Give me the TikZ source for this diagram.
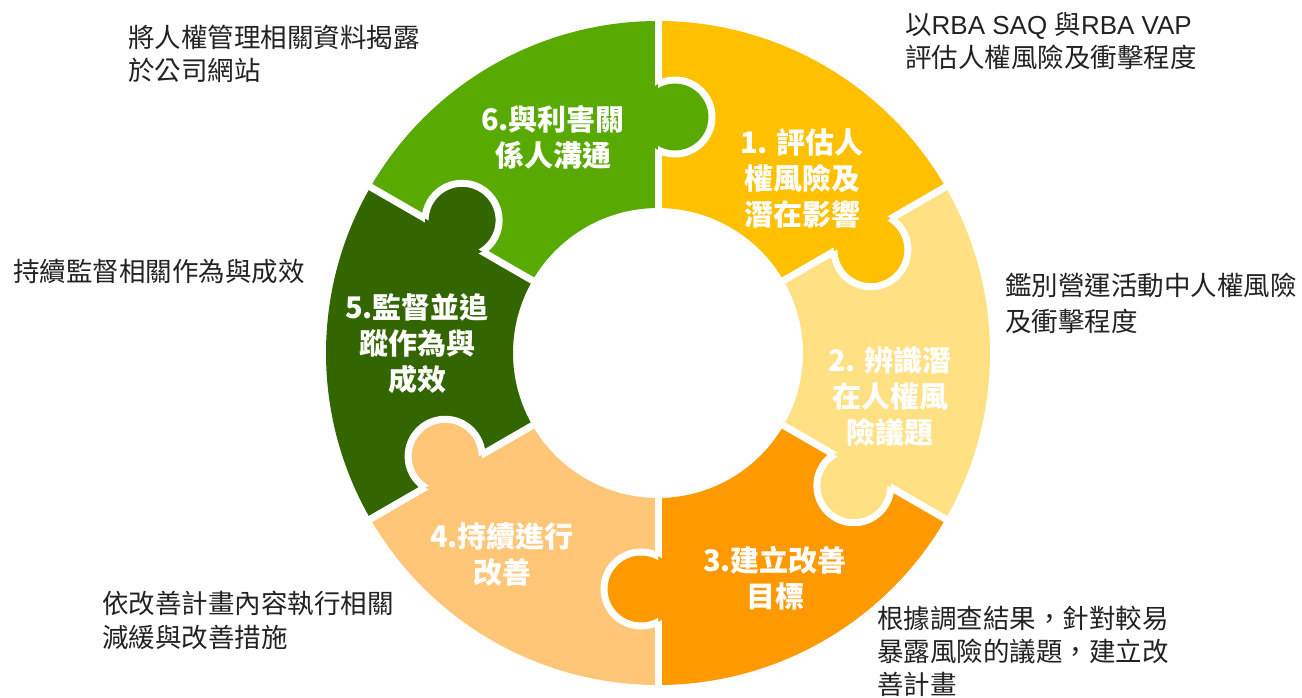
\documentclass[tikz,border=0pt]{standalone}
\usepackage{fontspec}
\setmainfont{Noto Sans CJK TC}[Script=CJK, Language=Chinese Traditional]
\newfontfamily\latfont{Liberation Sans}
\usetikzlibrary{calc}
\definecolor{cA}{HTML}{FFC000}
\definecolor{cB}{HTML}{FFE082}
\definecolor{cC}{HTML}{FF9900}
\definecolor{cD}{HTML}{FFC678}
\definecolor{cE}{HTML}{336600}
\definecolor{cF}{HTML}{58AA00}
\definecolor{annc}{HTML}{222222}
\newcommand{\latw}[1]{{\latfont\fontsize{26}{33}\selectfont #1}}
\begin{document}
\begin{tikzpicture}[x=1pt,y=1pt,
  ann/.style={anchor=west, inner sep=0pt, align=left, text=annc, font=\fontsize{26.5}{33}\selectfont},
  lab/.style={inner sep=0pt, align=center, text=white, font=\bfseries\fontsize{29}{36}\selectfont},
  gap/.style={white, line width=7pt}]
\useasboundingbox (0,0) rectangle (1302,-698);
\begin{scope}[shift={(658,-353)}]
  \foreach \a/\b/\c in {30/90/cA, -30/30/cB, -90/-30/cC, -150/-90/cD, 150/210/cE, 90/150/cF}
    \fill[\c] (\a:145) -- (\a:332) arc[start angle=\a, end angle=\b, radius=332] -- (\b:145) arc[start angle=\b, end angle=\a, radius=145] -- cycle;
  \foreach \b in {90,30,-30,-90,-150,150}
    \draw[gap] (\b:138) -- (\b:340);
  \foreach \b/\c in {90/cF, 30/cA, -30/cB, -90/cC, -150/cD, 150/cE} {
    \fill[\c] ($(\b:236)+({\b-90}:17)$) circle[radius=37];
    \begin{scope}
      \clip (\b:150) -- (\b:330) -- ($(\b:330)+({\b-90}:120)$) -- ($(\b:150)+({\b-90}:120)$) -- cycle;
      \draw[gap] ($(\b:236)+({\b-90}:17)$) circle[radius=37];
    \end{scope}
  }
\end{scope}
% segment labels
\node[lab] (l1) at (802,-178) {1. 評估人\\權風險及\\潛在影響};
\node[lab] (l2) at (890,-397) {2. 辨識潛\\在人權風\\險議題};
\node[lab] (l3) at (775,-578) {3.建立改善\\目標};
\node[lab] (l4) at (502,-555) {4.持續進行\\改善};
\node[lab] (l5) at (417,-344) {5.監督並追\\蹤作為與\\成效};
\node[lab] (l6) at (553,-137) {6.與利害關\\係人溝通};
% annotations
\node[ann] (a1) at (905,-41.5) {以\latw{RBA SAQ }與\latw{RBA VAP}\\評估人權風險及衝擊程度};
\node[ann, font=\fontsize{26.5}{36.7}\selectfont] (a2) at (1005,-303.5) {鑑別營運活動中人權風險\\及衝擊程度};
\node[ann] (a3) at (877,-651.5) {根據調查結果，針對較易\\暴露風險的議題，建立改\\善計畫};
\node[ann, font=\fontsize{26.5}{34}\selectfont] (a4) at (102,-620) {依改善計畫內容執行相關\\減緩與改善措施};
\node[ann] (a5) at (13,-272) {持續監督相關作為與成效};
\node[ann] (a6) at (128,-53.5) {將人權管理相關資料揭露\\於公司網站};
\end{tikzpicture}
\end{document}
